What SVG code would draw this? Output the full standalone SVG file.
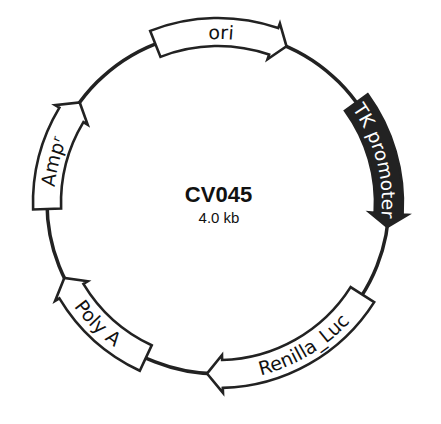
<svg xmlns="http://www.w3.org/2000/svg" xmlns:xlink="http://www.w3.org/1999/xlink" width="441" height="424" viewBox="0 0 441 424">
<style>
.box{fill:#fff;stroke:#222;stroke-width:2.6;stroke-linejoin:miter}
.dark{fill:#222;stroke:#222;stroke-width:2.6}
.lbl{font-family:"DejaVu Sans",sans-serif;font-size:19px;fill:#111}
.wlbl{font-family:"DejaVu Sans",sans-serif;font-size:18.5px;fill:#fff}
</style>
<defs>
<path id="p-ori" d="M114.8,75.6 A164,164 0 0 1 325.6,79.2"/>
<path id="p-tk" d="M312.1,68.7 A164,164 0 0 1 366.6,272.3"/>
<path id="p-amp" d="M70.6,274.9 A164,164 0 0 1 121.6,70.3"/>
<path id="p-poly" d="M41.2,218.5 A177.5,177.5 0 0 0 202.5,379.8"/>
<path id="p-ren" d="M190.2,378.3 A177.5,177.5 0 0 0 385.8,260.8"/>
</defs>
<rect width="441" height="424" fill="#fff"/>
<g id="connectors">
<circle cx="218" cy="203" r="171" fill="none" stroke="#222" stroke-width="3.5"/>
</g>
<g id="ori">
<path class="box" d="M150.2,30.9 A185,185 0 0 1 278.2,28.1 L279.9,23.4 L286.5,46.3 L267.5,59.3 L269.1,54.6 A157,157 0 0 0 160.5,56.9 Z"/>
<text class="lbl"><textPath xlink:href="#p-ori" startOffset="50%" text-anchor="middle">ori</textPath></text>
</g>
<g id="tk-promoter">
<path class="dark" d="M367.7,94.3 A185,185 0 0 1 402.6,214.6 L407.6,214.9 L387.3,226.8 L369.7,212.5 L374.7,212.9 A157,157 0 0 0 345.0,110.7 Z"/>
<text class="wlbl"><textPath xlink:href="#p-tk" startOffset="50%" text-anchor="middle">TK promoter</textPath></text>
</g>
<g id="renilla-luc">
<path class="box" d="M374.2,302.1 A185,185 0 0 1 222.8,387.9 L223.0,392.9 L207.0,373.6 L222.0,355.0 L222.1,360.0 A157,157 0 0 0 350.6,287.1 Z"/>
<text class="lbl"><textPath xlink:href="#p-ren" startOffset="50%" text-anchor="middle">Renilla_Luc</textPath></text>
</g>
<g id="poly-a">
<path class="box" d="M139.8,370.7 A185,185 0 0 1 59.4,298.3 L55.1,300.9 L64.3,278.0 L87.7,281.3 L83.4,283.9 A157,157 0 0 0 151.7,345.3 Z"/>
<text class="lbl"><textPath xlink:href="#p-poly" startOffset="50%" text-anchor="middle">Poly A</textPath></text>
</g>
<g id="ampr">
<path class="box" d="M33.1,209.5 A185,185 0 0 1 59.4,107.7 L55.1,105.1 L79.7,102.5 L87.7,124.7 L83.4,122.1 A157,157 0 0 0 61.1,208.5 Z"/>
<text class="lbl"><textPath xlink:href="#p-amp" startOffset="50%" text-anchor="middle">Ampʳ</textPath></text>
</g>
<g id="title">
<text x="218.5" y="201.5" text-anchor="middle" font-family="'Liberation Sans',Arial,sans-serif" font-weight="bold" font-size="22" fill="#111">CV045</text>
<text x="219" y="223" text-anchor="middle" font-family="'Liberation Sans',Arial,sans-serif" font-size="15" fill="#111">4.0 kb</text>
</g>
</svg>
